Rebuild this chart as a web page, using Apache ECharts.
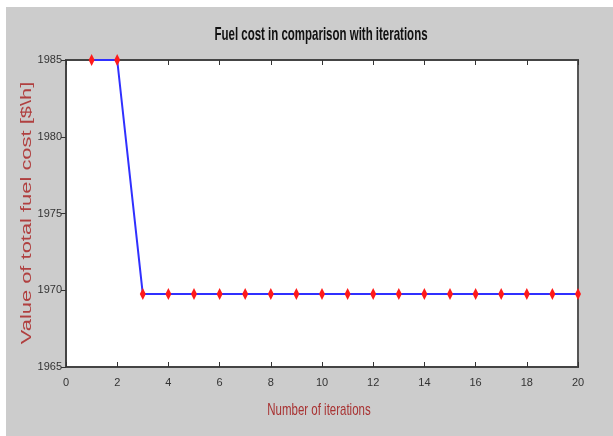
<!DOCTYPE html>
<html>
<head>
<meta charset="utf-8">
<script src="https://cdn.jsdelivr.net/npm/echarts@6/dist/echarts.min.js"></script>
<style>
html,body{margin:0;padding:0;background:#fff;}
#main{width:613px;height:436px;}
</style>
</head>
<body>
<div id="main"></div>
<script>
var iterations = [1,2,3,4,5,6,7,8,9,10,11,12,13,14,15,16,17,18,19,20];
var fuelCost = [1985,1985,1969.75,1969.75,1969.75,1969.75,1969.75,1969.75,1969.75,1969.75,1969.75,1969.75,1969.75,1969.75,1969.75,1969.75,1969.75,1969.75,1969.75,1969.75];
var titleText = 'Fuel cost in comparison with iterations';
var xName = 'Number of iterations';
var yName = 'Value of total fuel cost [$\\h]';

var chart = echarts.init(document.getElementById('main'));
var seriesData = iterations.map(function(x,i){ return [x, fuelCost[i]]; });
var tickFont = {fontFamily:'Liberation Sans', fontSize:11, color:'#333', formatter:function(v){ return String(v); }};
var axisLineStyle = {color:'#444', width:2};

chart.setOption({
  backgroundColor:'#fff',
  animation:false,
  graphic:[
    {type:'rect', z:-10, shape:{x:6,y:7,width:607,height:429}, style:{fill:'#cccccc'}},
    {type:'text', x:321, y:35, scaleX:0.82, scaleY:1.3,
      style:{text:titleText, fontFamily:'Liberation Sans', fontWeight:'bold', fontSize:14, fill:'#111', align:'center', verticalAlign:'middle'}},
    {type:'text', x:319, y:410, scaleX:0.82, scaleY:1.2,
      style:{text:xName, fontFamily:'Liberation Sans', fontSize:14, fill:'#a83232', align:'center', verticalAlign:'middle'}},
    {type:'text', x:27, y:213, rotation:Math.PI/2, scaleX:1.46,
      style:{text:yName, fontFamily:'Liberation Sans', fontSize:15, fill:'#b04040', align:'center', verticalAlign:'middle'}}
  ],
  grid:{left:66, right:35, top:60, bottom:69, show:true, backgroundColor:'#fff', borderColor:'#555', borderWidth:2},
  xAxis:[
    {type:'value', min:0, max:20, interval:2, position:'bottom',
      axisLine:{lineStyle:axisLineStyle},
      axisTick:{inside:true, length:5, lineStyle:{color:'#333'}},
      axisLabel:Object.assign({margin:10}, tickFont),
      splitLine:{show:false}},
    {type:'value', min:0, max:20, interval:2, position:'top',
      axisLine:{lineStyle:axisLineStyle},
      axisTick:{inside:true, length:5, lineStyle:{color:'#333'}},
      axisLabel:{show:false}, splitLine:{show:false}}
  ],
  yAxis:[
    {type:'value', min:1965, max:1985, interval:5, position:'left',
      axisLine:{show:true, lineStyle:axisLineStyle},
      axisTick:{show:true, inside:false, length:4, lineStyle:{color:'#333'}},
      axisLabel:Object.assign({margin:4}, tickFont),
      splitLine:{show:false}},
    {type:'value', min:1965, max:1985, interval:5, position:'right',
      axisLine:{show:true, lineStyle:axisLineStyle},
      axisTick:{show:true, inside:true, length:5, lineStyle:{color:'#333'}},
      axisLabel:{show:false}, splitLine:{show:false}}
  ],
  series:[{
    type:'line', xAxisIndex:0, yAxisIndex:0,
    data:seriesData,
    lineStyle:{color:'#3030ff', width:2},
    symbol:'diamond', symbolSize:[6,12],
    itemStyle:{color:'#ff1a1a'},
    z:5
  }]
});
</script>
</body>
</html>
